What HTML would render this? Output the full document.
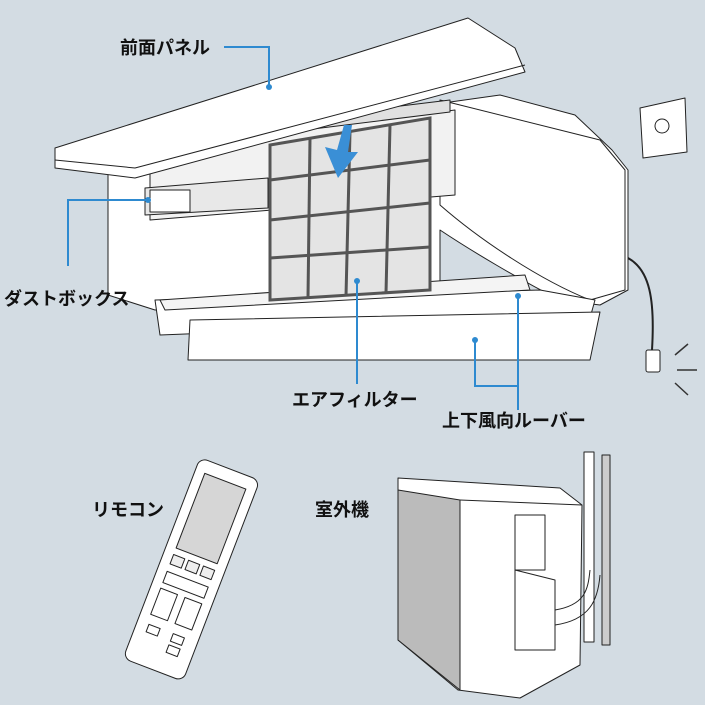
<!DOCTYPE html>
<html><head><meta charset="utf-8"><style>
html,body{margin:0;padding:0;background:#d3dce3;}
svg{display:block}
text{font-family:"Liberation Sans","Noto Sans CJK JP",sans-serif;font-size:18px;font-weight:bold;fill:#111;}
</style></head><body>
<svg width="705" height="705" viewBox="0 0 705 705" xmlns="http://www.w3.org/2000/svg">
<rect width="705" height="705" fill="#d3dce3"/>
<g stroke="#222" stroke-width="1" fill="#fff" stroke-linejoin="round">
<path d="M108,150 L500,95 L575,115 L612,150 L628,170 L628,290 L600,305 L560,300 C520,280 470,250 440,230 L440,300 L155,310 L108,295 Z"/>
<path d="M440,100 L600,140 L625,170 L625,290 L590,300 C540,280 480,240 440,205 Z" fill="#fff"/>
<path d="M150,150 L455,110 L455,195 L150,220 Z" fill="#f2f2f2"/>
<path d="M160,135 L450,100 L450,112 L160,148 Z" fill="#e0e0e0"/>
<path d="M145,188 L268,178 L268,208 L145,215 Z" fill="#e8e8e8"/>
<rect x="150" y="190" width="40" height="22" fill="#fff"/>
<path d="M155,300 L540,290 L595,300 L590,318 L160,335 Z"/>
<path d="M190,320 L600,312 L590,360 L188,360 Z"/>
<path d="M160,300 L525,275 L530,290 L165,310 Z" fill="#f4f4f4"/>
<path d="M55,148 L468,18 L515,48 L525,72 L135,178 L55,168 Z"/>
<path d="M55,160 L135,168 L525,65" fill="none"/>
<path d="M640,108 L685,98 L687,152 L643,158 Z"/>
<circle cx="662" cy="126" r="7" fill="none"/>
<path d="M628,258 C650,270 655,300 652,350" fill="none" stroke-width="2"/>
<rect x="646" y="350" width="14" height="22" rx="2"/>
</g>
<g stroke="#333" stroke-width="1.5">
<line x1="675" y1="355" x2="688" y2="344"/><line x1="677" y1="370" x2="697" y2="370"/><line x1="675" y1="383" x2="688" y2="395"/>
</g>
<g>
<path d="M270,145 L430,118 L430,290 L270,300 Z" fill="#e4e4e4" stroke="#555" stroke-width="3"/>
<g stroke="#555" stroke-width="3" fill="none">
<line x1="310" y1="138" x2="308" y2="298"/><line x1="350" y1="132" x2="346" y2="296"/><line x1="390" y1="125" x2="386" y2="293"/>
<line x1="270" y1="180" x2="430" y2="160"/><line x1="270" y1="220" x2="430" y2="203"/><line x1="270" y1="258" x2="430" y2="247"/>
</g>
<path d="M344,125 L352,125 L348,152 L358,152 L338,178 L325,147 L337,150 Z" fill="#3a8fd6"/>
</g>
<g stroke="#222" stroke-width="1" fill="#fff" stroke-linejoin="round">
<path d="M398,478 L560,488 L582,505 L580,665 L520,698 L458,690 L398,640 Z"/>
<path d="M398,490 L460,500 L460,690 L398,640 Z" fill="#bbb"/>
<path d="M460,500 L582,505" fill="none"/>
<rect x="515" y="515" width="30" height="55" fill="#fff"/>
<path d="M515,570 L555,580 L555,650 L515,650 Z" fill="#fff"/>
<rect x="584" y="452" width="10" height="190" fill="#fff"/>
<rect x="602" y="455" width="8" height="190" fill="#ccc"/>
<path d="M555,610 C585,605 588,590 590,570" fill="none"/>
<path d="M555,625 C590,620 598,600 600,575" fill="none"/>
</g>
<g transform="rotate(21 192 568)" stroke="#222" stroke-width="1" stroke-linejoin="round">
<rect x="160" y="462" width="64" height="215" rx="8" fill="#fff"/>
<rect x="170" y="475" width="44" height="80" fill="#d6d6d6"/>
<rect x="170" y="562" width="12" height="10" fill="#eee"/><rect x="186" y="562" width="12" height="10" fill="#eee"/><rect x="202" y="562" width="12" height="10" fill="#eee"/>
<rect x="170" y="580" width="44" height="12" fill="#fff"/>
<rect x="170" y="598" width="18" height="28" fill="#fff"/><rect x="196" y="598" width="18" height="28" fill="#fff"/>
<rect x="172" y="636" width="12" height="8" fill="#fff"/><rect x="198" y="636" width="12" height="8" fill="#fff"/><rect x="198" y="648" width="12" height="8" fill="#fff"/>
</g>
<g stroke="#2e8ad0" stroke-width="2" fill="none">
<polyline points="224,47 269,47 269,85"/>
<polyline points="148,200 68,200 68,266"/>
<line x1="357" y1="283" x2="357" y2="384"/>
<polyline points="475,341 475,386 518,386"/>
<line x1="518" y1="296" x2="518" y2="410"/>
</g>
<g fill="#2e8ad0"><circle cx="269" cy="87" r="3"/><circle cx="148" cy="200" r="3"/><circle cx="357" cy="281" r="3"/><circle cx="475" cy="340" r="3"/><circle cx="518" cy="296" r="3"/></g>
<text x="120" y="54">前面パネル</text>
<text x="4" y="305">ダストボックス</text>
<text x="292" y="406">エアフィルター</text>
<text x="442" y="427">上下風向ルーバー</text>
<text x="92" y="516">リモコン</text>
<text x="315" y="516">室外機</text>
</svg>
</body></html>
